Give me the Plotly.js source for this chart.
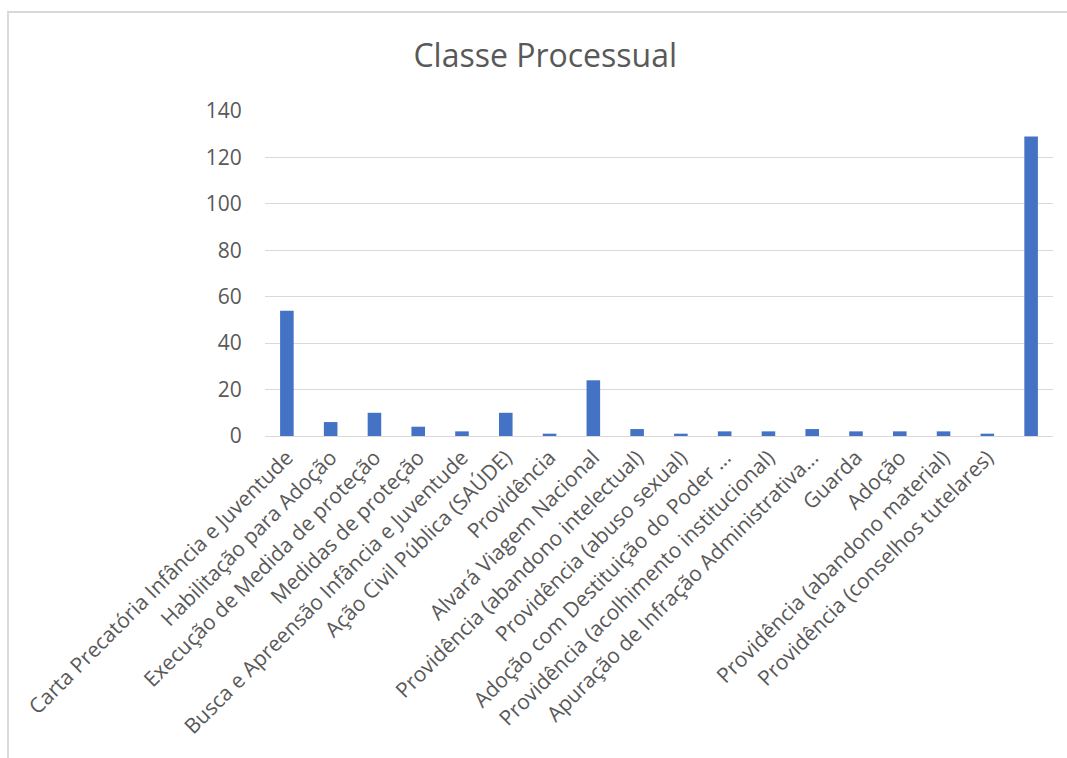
<!DOCTYPE html>
<html>
<head>
<meta charset="utf-8">
<script src="https://cdn.plot.ly/plotly-3.0.1.min.js"></script>
<style>
  html, body { margin: 0; padding: 0; background: #ffffff; }
  #wrap { position: relative; width: 1067px; height: 758px; }
  #chart { width: 1067px; height: 758px; }
  #frame { position: absolute; left: 7px; top: 11px; right: -2px; bottom: -2px;
           border-left: 2px solid #d9d9d9; border-top: 2px solid #d9d9d9; pointer-events: none; }
</style>
</head>
<body>
<div id="wrap">
  <div id="chart"></div>
  <div id="frame"></div>
</div>
<script>
const categories = [
  "Carta Precatória Infância e Juventude",
  "Habilitação para Adoção",
  "Execução de Medida de proteção",
  "Medidas de proteção",
  "Busca e Apreensão Infância e Juventude",
  "Ação Civil Pública (SAÚDE)",
  "Providência",
  "Alvará Viagem Nacional",
  "Providência (abandono intelectual)",
  "Providência (abuso sexual)",
  "Adoção com Destituição do Poder ...",
  "Providência (acolhimento institucional)",
  "Apuração de Infração Administrativa...",
  "Guarda",
  "Adoção",
  "Providência (abandono material)",
  "Providência (conselhos tutelares)",
  " "
];
const values = [54, 6, 10, 4, 2, 10, 1, 24, 3, 1, 2, 2, 3, 2, 2, 2, 1, 129];
const yTicks = [0, 20, 40, 60, 80, 100, 120, 140];

const trace = {
  type: "bar",
  x: categories,
  y: values,
  marker: { color: "#4472c4" },
  hoverinfo: "x+y"
};

const layout = {
  width: 1067,
  height: 758,
  paper_bgcolor: "#ffffff",
  plot_bgcolor: "#ffffff",
  margin: { l: 265, r: 14, t: 111, b: 322 },
  bargap: 0.69,
  showlegend: false,
  font: { family: "Open Sans, sans-serif", color: "#595959", size: 16 },
  title: {
    text: "Classe Processual",
    font: { family: "Open Sans, sans-serif", size: 32, color: "#595959" },
    x: 0.511, xanchor: "center",
    y: 0.927, yanchor: "middle"
  },
  xaxis: {
    type: "category",
    tickangle: -45,
    tickfont: { size: 21, color: "#595959" },
    showgrid: false,
    showline: true,
    linecolor: "#d9d9d9",
    linewidth: 1,
    ticks: "",
    automargin: false
  },
  yaxis: {
    range: [0, 140],
    tickvals: yTicks,
    ticktext: yTicks.map(String),
    tickfont: { size: 21, color: "#595959" },
    showgrid: true,
    gridcolor: "#d9d9d9",
    gridwidth: 1,
    zeroline: false,
    showline: false,
    ticks: "outside",
    ticklen: 18,
    tickcolor: "rgba(0,0,0,0)",
    automargin: false
  }
};

Plotly.newPlot("chart", [trace], layout, { displayModeBar: false, staticPlot: true });
</script>
</body>
</html>
